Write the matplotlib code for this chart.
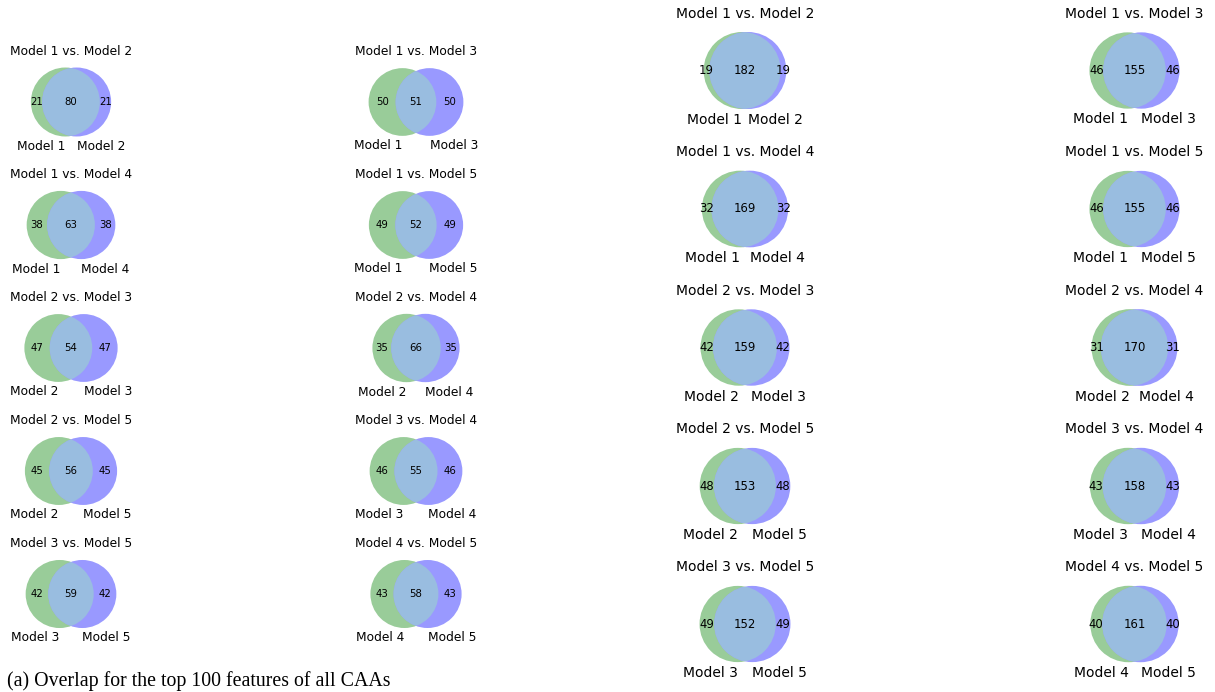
import numpy as np
import matplotlib
matplotlib.use('Agg')
import matplotlib.pyplot as plt
from matplotlib.patches import Circle

# pairs of models, grid order (row by row, 2 per row)
pair_a = [1, 1, 1, 1, 2, 2, 2, 3, 3, 4]
pair_b = [2, 3, 4, 5, 3, 4, 5, 4, 5, 5]

# (a) top 100 features
top100_a_only = [21, 50, 38, 49, 47, 35, 45, 46, 42, 43]
top100_b_only = [21, 50, 38, 49, 47, 35, 45, 46, 42, 43]
top100_both = [80, 51, 63, 52, 54, 66, 56, 55, 59, 58]

# (b) top 200 features
top200_a_only = [19, 46, 32, 46, 42, 31, 48, 43, 49, 40]
top200_b_only = [19, 46, 32, 46, 42, 31, 48, 43, 49, 40]
top200_both = [182, 155, 169, 155, 159, 170, 153, 158, 152, 161]

caption_a = '(a) Overlap for the top 100 features of all CAAs'

W, H = 1215, 692
fig = plt.figure(figsize=(W / 100, H / 100), dpi=100)


def blend(rgb, alpha=0.4):
    rgb = np.asarray(rgb, dtype=float)
    return tuple(1 - alpha + alpha * rgb)


col_a = np.array([0.0, 0.5, 0.0])   # 'g'
col_b = np.array([0.0, 0.0, 1.0])   # 'b'
col_ab = np.clip(0.7 * (col_a + col_b), 0, 1)


def lens_area(r1, r2, d):
    if d >= r1 + r2:
        return 0.0
    if d <= abs(r1 - r2):
        return np.pi * min(r1, r2) ** 2
    a1 = r1 ** 2 * np.arccos((d ** 2 + r1 ** 2 - r2 ** 2) / (2 * d * r1))
    a2 = r2 ** 2 * np.arccos((d ** 2 + r2 ** 2 - r1 ** 2) / (2 * d * r2))
    k = 0.5 * np.sqrt((-d + r1 + r2) * (d + r1 - r2) * (d - r1 + r2) * (d + r1 + r2))
    return a1 + a2 - k


def venn(cx, cy, box_h, a_only, b_only, both, name_a, name_b, fs):
    tot = float(a_only + b_only + both)
    ra = np.sqrt((a_only + both) / tot / np.pi)
    rb = np.sqrt((b_only + both) / tot / np.pi)
    target = both / tot
    lo, hi = abs(ra - rb) + 1e-9, ra + rb
    for _ in range(80):
        mid = (lo + hi) / 2
        if lens_area(ra, rb, mid) > target:
            lo = mid
        else:
            hi = mid
    d = (lo + hi) / 2
    wa, wb = ra ** 2, rb ** 2
    xa = -d * wb / (wa + wb)
    xb = d * wa / (wa + wb)

    x0 = min(xa - ra, xb - rb) - 0.1
    x1 = max(xa + ra, xb + rb) + 0.1
    rmax = max(ra, rb)
    y0, y1 = -rmax - 0.1, rmax + 0.1
    box_w = box_h * (x1 - x0) / (y1 - y0)

    ax = fig.add_axes([(cx - box_w / 2) / W, (H - cy - box_h / 2) / H,
                       box_w / W, box_h / H])
    ax.set_xlim(x0, x1)
    ax.set_ylim(y0, y1)
    ax.set_aspect('equal')
    ax.set_axis_off()

    ax.add_patch(Circle((xa, 0), ra, fc=blend(col_a), ec='none', zorder=1))
    cb = Circle((xb, 0), rb, fc=blend(col_b), ec='none', zorder=2)
    ax.add_patch(cb)
    lens = Circle((xa, 0), ra, fc=blend(col_ab), ec='none', zorder=3)
    ax.add_patch(lens)
    lens.set_clip_path(cb)

    small = fs * 10 / 12
    ax.text(((xa - ra) + (xb - rb)) / 2, 0, str(a_only), ha='center', va='center',
            fontsize=small, zorder=5)
    ax.text(((xa + ra) + (xb + rb)) / 2, 0, str(b_only), ha='center', va='center',
            fontsize=small, zorder=5)
    ax.text(((xb - rb) + (xa + ra)) / 2, 0, str(both), ha='center', va='center',
            fontsize=small, zorder=5)

    pad = np.mean([ra * 0.1, rb * 0.1])
    ax.text(xa, -ra - pad, 'Model %d' % name_a, ha='right', va='top', fontsize=fs,
            clip_on=False)
    ax.text(xb, -rb - pad, 'Model %d' % name_b, ha='left', va='top', fontsize=fs,
            clip_on=False)
    ax.set_title('Model %d vs. Model %d' % (name_a, name_b), fontsize=fs,
                 pad=6 * fs / 12)


# left panel: top 100
left_x = [71, 416]
left_y = [102, 225, 348, 471, 594]
for i in range(10):
    venn(left_x[i % 2], left_y[i // 2], 82.4, top100_a_only[i], top100_b_only[i],
         top100_both[i], pair_a[i], pair_b[i], 8.8)

# right panel: top 200
right_x = [745, 1134.5]
right_y = [70.5, 209, 347.5, 486, 624]
for i in range(10):
    venn(right_x[i % 2], right_y[i // 2], 91.3, top200_a_only[i], top200_b_only[i],
         top200_both[i], pair_a[i], pair_b[i], 10.0)

fig.text(7 / W, 1 - 681 / H, caption_a, family='Liberation Serif', fontsize=14.3,
         ha='left', va='center')

fig.savefig('out.png', dpi=100)
